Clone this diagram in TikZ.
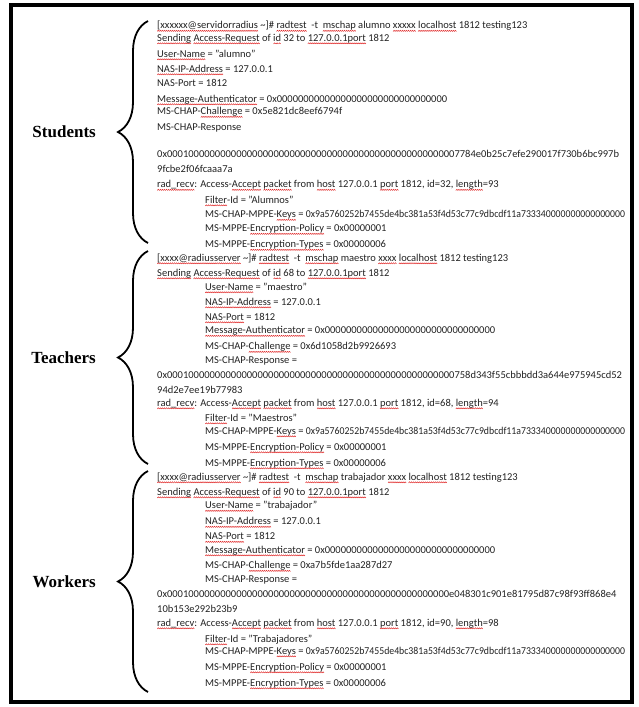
\documentclass[tikz,border=0pt]{standalone}
\usepackage{fontspec}
\usepackage{graphicx}
\setmainfont{Carlito}
\newfontfamily\grpfont{Liberation Serif}
\usetikzlibrary{positioning,decorations.pathreplacing}
\definecolor{squig}{HTML}{E02A2A}
\definecolor{ink}{HTML}{222222}
\newsavebox\wavebox
\newsavebox\markbox
\newcommand\spellmark[1]{\sbox\markbox{#1}\rlap{\lower2.9pt\hbox to \wd\markbox{\xleaders\copy\wavebox\hfil}}\usebox\markbox}
\newcommand\keyhex{\scalebox{0.93}[1]{0x9a5760252b7455de4bc381a53f4d53c77c9dbcdf11a733340000000000000000}}

\begin{document}
\sbox\wavebox{\pgfpicture
  \pgfsetcolor{squig}\pgfsetlinewidth{0.5pt}%
  \pgfpathmoveto{\pgfpoint{0pt}{0pt}}%
  \pgfpathlineto{\pgfpoint{1pt}{1.1pt}}%
  \pgfpathlineto{\pgfpoint{2pt}{0pt}}%
  \pgfusepath{stroke}%
  \pgfresetboundingbox
  \pgfpathrectanglecorners{\pgfpoint{0pt}{0pt}}{\pgfpoint{2pt}{1.1pt}}%
  \pgfusepath{use as bounding box}%
\endpgfpicture}%
\begin{tikzpicture}[x=1pt, y=-1pt, node distance=22pt,
  txt/.style = {anchor=base west, inner sep=0pt, text=ink, font=\fontsize{10.5}{12}\selectfont},
  grp/.style = {inner sep=0pt, font=\grpfont\bfseries\fontsize{17}{19}\selectfont},
  brc/.style = {decorate, decoration={brace, amplitude=30pt}, line width=1.8pt}]
\useasboundingbox (0,0) rectangle (638,707);
\draw[line width=4pt] (11,5) rectangle (632,702);

% students
\node[txt] (s1) at (157,28.5) {\spellmark{[xxxxxx@servidorradius} \textasciitilde]\# \spellmark{radtest}~ -t~ \spellmark{mschap} alumno \spellmark{xxxxx} \spellmark{localhost} 1812 testing123};
\node[txt] (s2) at (157,41) {\spellmark{Sending} \spellmark{Access-Request} of \spellmark{id} 32 to \spellmark{127.0.0.1port} 1812};
\node[txt] (s3) at (157,57) {\spellmark{User-Name} = "alumno"};
\node[txt] (s4) at (157,72) {\spellmark{NAS-IP-Address} = 127.0.0.1};
\node[txt] (s5) at (157,86) {NAS-Port = 1812};
\node[txt] (s6) at (157,102) {\spellmark{Message-Authenticator} = 0x00000000000000000000000000000000};
\node[txt] (s7) at (157,114.5) {MS-CHAP-\spellmark{Challenge} = 0x5e821dc8eef6794f};
\node[txt] (s8) at (157,130) {MS-CHAP-Response};
\node[txt] (s9) at (157,157) {0x0001000000000000000000000000000000000000000000000000007784e0b25c7efe290017f730b6bc997b};
\node[txt] (s10) at (157,172) {9fcbe2f06fcaaa7a};
\node[txt] (s11) at (157,187.5) {\spellmark{rad\_recv}: Access-\spellmark{Accept} \spellmark{packet} from \spellmark{host} 127.0.0.1 \spellmark{port} 1812, id=32, \spellmark{length}=93};
\node[txt] (s12) at (205,203) {\spellmark{Filter}-Id = "Alumnos"};
\node[txt] (s13) at (205,217.5) {MS-CHAP-MPPE-\spellmark{Keys} = \keyhex};
\node[txt] (s14) at (205,231.5) {MS-MPPE-\spellmark{Encryption-Policy} = 0x00000001};
\node[txt] (s15) at (205,247.5) {MS-MPPE-\spellmark{Encryption-Types} = 0x00000006};

% teachers
\node[txt] (t1) at (157,261) {\spellmark{[xxxx@radiusserver} \textasciitilde]\# \spellmark{radtest}~ -t~ \spellmark{mschap} maestro \spellmark{xxxx} \spellmark{localhost} 1812 testing123};
\node[txt] (t2) at (157,276) {\spellmark{Sending} \spellmark{Access-Request} of \spellmark{id} 68 to \spellmark{127.0.0.1port} 1812};
\node[txt] (t3) at (205,290) {\spellmark{User-Name} = "maestro"};
\node[txt] (t4) at (205,305) {\spellmark{NAS-IP-Address} = 127.0.0.1};
\node[txt] (t5) at (205,320) {\spellmark{NAS-Port} = 1812};
\node[txt] (t6) at (205,333.5) {\spellmark{Message-Authenticator} = 0x00000000000000000000000000000000};
\node[txt] (t7) at (205,349.5) {MS-CHAP-\spellmark{Challenge} = 0x6d1058d2b9926693};
\node[txt] (t8) at (205,363) {MS-CHAP-Response =};
\node[txt] (t9) at (157,378) {0x000100000000000000000000000000000000000000000000000000758d343f55cbbbdd3a644e975945cd52};
\node[txt] (t10) at (157,393) {94d2e7ee19b77983};
\node[txt] (t11) at (157,406) {\spellmark{rad\_recv}: Access-\spellmark{Accept} \spellmark{packet} from \spellmark{host} 127.0.0.1 \spellmark{port} 1812, id=68, \spellmark{length}=94};
\node[txt] (t12) at (205,421) {\spellmark{Filter}-Id = "Maestros"};
\node[txt] (t13) at (205,434) {MS-CHAP-MPPE-\spellmark{Keys} = \keyhex};
\node[txt] (t14) at (205,450) {MS-MPPE-\spellmark{Encryption-Policy} = 0x00000001};
\node[txt] (t15) at (205,466) {MS-MPPE-\spellmark{Encryption-Types} = 0x00000006};

% workers
\node[txt] (w1) at (157,480) {\spellmark{[xxxx@radiusserver} \textasciitilde]\# \spellmark{radtest}~ -t~ \spellmark{mschap} trabajador \spellmark{xxxx} \spellmark{localhost} 1812 testing123};
\node[txt] (w2) at (157,495) {\spellmark{Sending} \spellmark{Access-Request} of \spellmark{id} 90 to \spellmark{127.0.0.1port} 1812};
\node[txt] (w3) at (205,508.5) {\spellmark{User-Name} = "trabajador"};
\node[txt] (w4) at (205,524.5) {\spellmark{NAS-IP-Address} = 127.0.0.1};
\node[txt] (w5) at (205,539.5) {\spellmark{NAS-Port} = 1812};
\node[txt] (w6) at (205,553) {\spellmark{Message-Authenticator} = 0x00000000000000000000000000000000};
\node[txt] (w7) at (205,568.5) {MS-CHAP-\spellmark{Challenge} = 0xa7b5fde1aa287d27};
\node[txt] (w8) at (205,582) {MS-CHAP-Response =};
\node[txt] (w9) at (157,597) {0x00010000000000000000000000000000000000000000000000000e048301c901e81795d87c98f93ff868e4};
\node[txt] (w10) at (157,612) {10b153e292b23b9};
\node[txt] (w11) at (157,626) {\spellmark{rad\_recv}: Access-\spellmark{Accept} \spellmark{packet} from \spellmark{host} 127.0.0.1 \spellmark{port} 1812, id=90, \spellmark{length}=98};
\node[txt] (w12) at (205,642) {\spellmark{Filter}-Id = "Trabajadores"};
\node[txt] (w13) at (205,654) {MS-CHAP-MPPE-\spellmark{Keys} = \keyhex};
\node[txt] (w14) at (205,670) {MS-MPPE-\spellmark{Encryption-Policy} = 0x00000001};
\node[txt] (w15) at (205,686) {MS-MPPE-\spellmark{Encryption-Types} = 0x00000006};

% braces and group names
\coordinate (sTop) at (148,21);
\coordinate (sBot) at (148,243);
\coordinate (sTip) at (118,132);
\coordinate (tTop) at (148,251);
\coordinate (tBot) at (148,464);
\coordinate (tTip) at (118,357.5);
\coordinate (wTop) at (148,471);
\coordinate (wBot) at (148,692);
\coordinate (wTip) at (118,581.5);

\draw[brc] (sBot) -- (sTop);
\draw[brc] (tBot) -- (tTop);
\draw[brc] (wBot) -- (wTop);

\node[grp] (students) [left=of sTip] {Students};
\node[grp] (teachers) [left=of tTip] {Teachers};
\node[grp] (workers) [left=of wTip] {Workers};

\end{tikzpicture}
\end{document}
